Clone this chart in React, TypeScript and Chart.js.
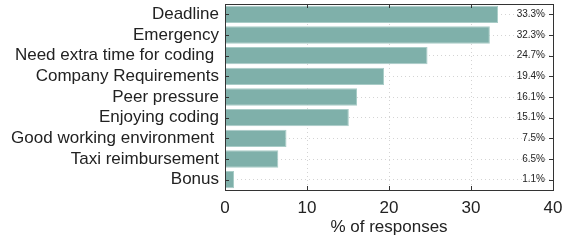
import React, { useEffect, useRef } from "react";
import { Chart, registerables } from "chart.js";

Chart.register(...registerables);

const categories = [
  "Deadline",
  "Emergency",
  "Need extra time for coding ",
  "Company Requirements",
  "Peer pressure",
  "Enjoying coding",
  "Good working environment ",
  "Taxi reimbursement",
  "Bonus",
];
const values = [33.3, 32.3, 24.7, 19.4, 16.1, 15.1, 7.5, 6.5, 1.1];
const percentLabels = values.map((v) => v.toFixed(1) + "%");
const xTicks = [0, 10, 20, 30, 40];

const FONT = "'Liberation Sans', Arial, Helvetica, sans-serif";

const framePlugin = {
  id: "frame",
  afterDraw(chart: any) {
    const { ctx, chartArea } = chart;
    const { left, right, top, bottom } = chartArea;
    const x = chart.scales.x;
    const y = chart.scales.y;
    ctx.save();
    ctx.strokeStyle = "#333";
    ctx.lineWidth = 1;
    ctx.beginPath();
    const L = 4;
    x.ticks.forEach((t: any) => {
      const px = Math.round(x.getPixelForValue(t.value)) + 0.5;
      ctx.moveTo(px, top);
      ctx.lineTo(px, top + L);
      ctx.moveTo(px, bottom);
      ctx.lineTo(px, bottom - L);
    });
    y.ticks.forEach((t: any, i: number) => {
      const py = Math.round(y.getPixelForTick(i)) + 0.5;
      ctx.moveTo(left, py);
      ctx.lineTo(left + L, py);
      ctx.moveTo(right, py);
      ctx.lineTo(right - L, py);
    });
    ctx.stroke();
    ctx.strokeRect(Math.round(left) + 0.5, Math.round(top) + 0.5, Math.round(right - left), Math.round(bottom - top));
    ctx.restore();
  },
};

export default function App() {
  const ref = useRef<HTMLCanvasElement>(null);
  useEffect(() => {
    if (!ref.current) return;
    const chart = new Chart(ref.current, {
      type: "bar",
      data: {
        labels: categories,
        datasets: [
          {
            data: values,
            backgroundColor: "#7fb0aa",
            borderColor: "#a9ccc7",
            borderWidth: 1,
            barPercentage: 0.84,
            categoryPercentage: 1,
          },
        ],
      },
      plugins: [framePlugin],
      options: {
        indexAxis: "y",
        animation: false,
        responsive: false,
        maintainAspectRatio: false,
        layout: { padding: { top: 4, right: 12, left: 0, bottom: 0 } },
        plugins: { legend: { display: false }, tooltip: { enabled: false } },
        scales: {
          x: {
            type: "linear",
            min: 0,
            max: 40,
            afterBuildTicks: (s: any) => {
              s.ticks = xTicks.map((v) => ({ value: v }));
            },
            afterFit: (s: any) => {
              s.height = 51;
              s.paddingLeft = 0;
              s.paddingRight = 0;
            },
            ticks: {
              color: "#222",
              font: { family: FONT, size: 17 },
              padding: 8,
            },
            grid: {
              color: "#d4d4d4",
              lineWidth: 1,
              drawTicks: false,
            },
            border: { display: false, dash: [1, 3] },
            title: {
              display: true,
              text: "% of responses",
              color: "#222",
              font: { family: FONT, size: 17 },
              padding: { top: 0, bottom: 3 },
            },
          },
          y: {
            type: "category",
            position: "left",
            afterFit: (s: any) => {
              s.width = 225;
              s.paddingTop = 0;
              s.paddingBottom = 0;
            },
            ticks: {
              color: "#222",
              font: { family: FONT, size: 17 },
              padding: 6,
              autoSkip: false,
            },
            grid: {
              offset: false,
              color: "#d4d4d4",
              lineWidth: 1,
              drawTicks: false,
            },
            border: { display: false, dash: [1, 3] },
          },
          y2: {
            type: "category",
            position: "right",
            labels: percentLabels,
            offset: true,
            afterFit: (s: any) => {
              s.width = 0;
              s.paddingTop = 0;
              s.paddingBottom = 0;
            },
            ticks: {
              mirror: true,
              color: "#222",
              font: { family: FONT, size: 10 },
              padding: -8,
              autoSkip: false,
            },
            grid: { display: false, drawTicks: false },
            border: { display: false },
          },
        },
      },
    } as any);
    return () => chart.destroy();
  }, []);
  return (
    <div style={{ position: "absolute", left: 0, top: 0, width: 565, height: 241 }}>
      <canvas ref={ref} width={565} height={241} />
    </div>
  );
}
